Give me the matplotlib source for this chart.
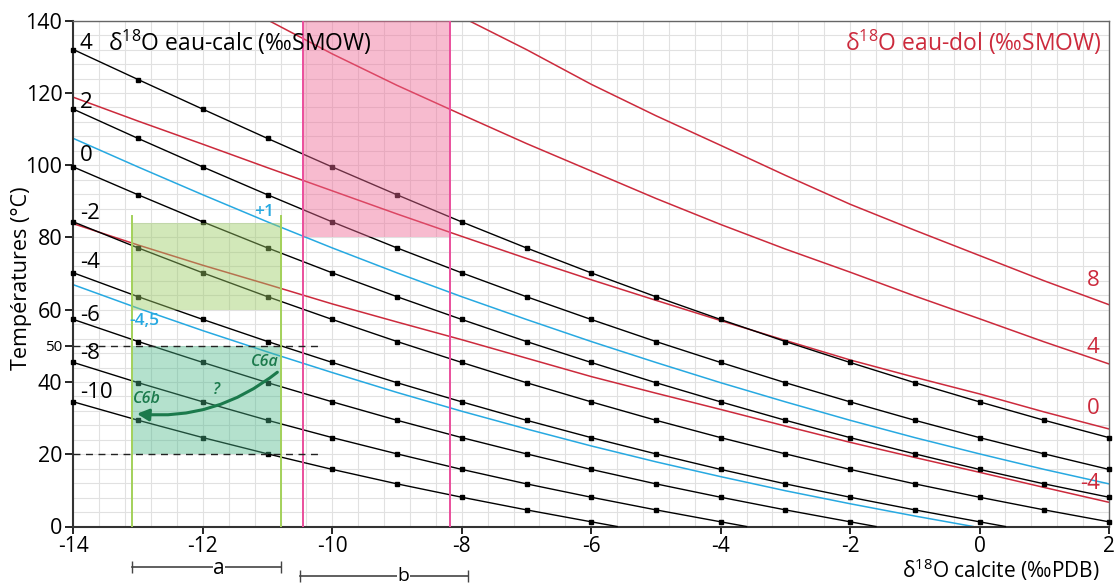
import numpy as np
import matplotlib
matplotlib.use('Agg')
import matplotlib.pyplot as plt
from matplotlib.patches import Rectangle

plt.rcParams['font.family'] = ['Open Sans', 'DejaVu Sans']
plt.rcParams['mathtext.fontset'] = 'custom'
plt.rcParams['mathtext.rm'] = 'Open Sans'
plt.rcParams['mathtext.it'] = 'Open Sans:italic'

# --- data ---
# black lines : d18O eau-calc (SMOW), markers at each integer d18O calcite (PDB)
calc_labels = ['4', '2', '0', '-2', '-4', '-6', '-8', '-10']
calc_x = [
    [-14, -13, -12, -11, -10, -9, -8, -7, -6, -5, -4, -3, -2, -1, 0, 1, 2],
    [-14, -13, -12, -11, -10, -9, -8, -7, -6, -5, -4, -3, -2, -1, 0, 1, 2],
    [-14, -13, -12, -11, -10, -9, -8, -7, -6, -5, -4, -3, -2, -1, 0, 1, 2],
    [-14, -13, -12, -11, -10, -9, -8, -7, -6, -5, -4, -3, -2, -1, 0, 1, 2],
    [-14, -13, -12, -11, -10, -9, -8, -7, -6, -5, -4, -3, -2, -1, 0, 0.4],
    [-14, -13, -12, -11, -10, -9, -8, -7, -6, -5, -4, -3, -2, -1.6],
    [-14, -13, -12, -11, -10, -9, -8, -7, -6, -5, -4, -3.6],
    [-14, -13, -12, -11, -10, -9, -8, -7, -6, -5.6],
]
calc_T = [
    [132.0, 123.7, 115.5, 107.4, 99.5, 91.8, 84.3, 77.1, 70.2, 63.6, 57.3, 51.2, 45.4, 39.8, 34.5, 29.4, 24.6],
    [115.5, 107.4, 99.5, 91.8, 84.3, 77.1, 70.2, 63.6, 57.3, 51.2, 45.4, 39.8, 34.5, 29.4, 24.6, 20.1, 15.8],
    [99.5, 91.8, 84.3, 77.1, 70.2, 63.6, 57.3, 51.2, 45.4, 39.8, 34.5, 29.4, 24.6, 20.1, 15.8, 11.8, 8.1],
    [84.3, 77.1, 70.2, 63.6, 57.3, 51.2, 45.4, 39.8, 34.5, 29.4, 24.6, 20.1, 15.8, 11.8, 8.1, 4.6, 1.3],
    [70.2, 63.6, 57.3, 51.2, 45.4, 39.8, 34.5, 29.4, 24.6, 20.1, 15.8, 11.8, 8.1, 4.6, 1.3, 0.0],
    [57.3, 51.2, 45.4, 39.8, 34.5, 29.4, 24.6, 20.1, 15.8, 11.8, 8.1, 4.6, 1.3, 0.0],
    [45.4, 39.8, 34.5, 29.4, 24.6, 20.1, 15.8, 11.8, 8.1, 4.6, 1.3, 0.0],
    [34.5, 29.4, 24.6, 20.1, 15.8, 11.8, 8.1, 4.6, 1.3, 0.0],
]
calc_label_T = [133.6, 117.4, 102.7, 86.5, 73.1, 58.4, 47.8, 37.2]

# blue lines : +1 and -4,5
blue_labels = ['+1', '-4,5']
blue_x = [
    [-14, -13, -12, -11, -10, -9, -8, -7, -6, -5, -4, -3, -2, -1, 0, 1, 2],
    [-14, -13, -12, -11, -10, -9, -8, -7, -6, -5, -4, -3, -2, -1, -0.1],
]
blue_T = [
    [107.4, 99.5, 91.8, 84.3, 77.1, 70.2, 63.6, 57.3, 51.2, 45.4, 39.8, 34.5, 29.4, 24.6, 20.1, 15.8, 11.8],
    [66.9, 60.4, 54.2, 48.3, 42.6, 37.1, 31.9, 27.0, 22.3, 17.9, 13.8, 9.9, 6.3, 2.9, 0.0],
]
blue_label_pos = [(-11.05, 87.0), (-12.9, 57.0)]

# red lines : d18O eau-dol (SMOW)
dol_labels = ['8', '4', '0', '-4']
dol_x = [
    [-8, -7, -6, -5, -4, -3, -2, -1, 0, 1, 2],
    [-11, -10, -9, -8, -7, -6, -5, -4, -3, -2, -1, 0, 1, 2],
    [-14, -13, -12, -11, -10, -9, -8, -7, -6, -5, -4, -3, -2, -1, 0, 1, 2],
    [-14, -13, -12, -11, -10, -9, -8, -7, -6, -5, -4, -3, -2, -1, 0, 1, 2],
]
dol_T = [
    [141.0, 132.0, 122.4, 113.7, 105.5, 97.2, 89.2, 82.0, 75.0, 68.0, 61.4],
    [140.2, 130.8, 122.1, 114.0, 106.0, 98.4, 90.8, 83.6, 76.8, 70.4, 63.8, 57.5, 51.1, 45.0],
    [118.8, 112.2, 105.8, 99.3, 92.9, 86.5, 80.3, 74.2, 68.3, 62.6, 57.0, 51.5, 46.1, 41.3, 36.7, 31.7, 27.0],
    [83.8, 77.9, 72.3, 67.0, 61.6, 56.6, 51.7, 46.6, 41.5, 36.9, 32.4, 27.8, 23.3, 19.1, 15.0, 10.8, 6.7],
]
dol_label_pos = [(1.75, 68.1), (1.75, 49.6), (1.75, 32.6), (1.71, 11.8)]

# shaded zones
pink_x = (-10.45, -8.18)
pink_T = (80, 140)
green_x = (-13.1, -10.8)
green_T = (60, 84)
teal_T = (20, 50)

RED = '#cc2a3c'
BLUE = '#27a9e1'
MAGENTA = '#ea4f9c'
LGREEN = '#a3d15a'
DGREEN = '#1b7a4c'

fig = plt.figure(figsize=(11.17, 5.85), dpi=100)
ax = fig.add_axes([0.0658, 0.1, 0.927, 0.8646])
ax.set_xlim(-14, 2)
ax.set_ylim(0, 140)

# grid
ax.set_xticks(np.arange(-14, 2.01, 0.4), minor=True)
ax.set_yticks(np.arange(0, 141, 4), minor=True)
ax.grid(which='both', color='#e1e1e1', lw=0.8, zorder=0)
ax.set_axisbelow(True)
ax.tick_params(which='minor', length=0)

for xs, ts in zip(calc_x, calc_T):
    n = sum(1 for v in xs if float(v).is_integer())
    ax.plot(xs, ts, color='black', lw=1.0, marker='s', markersize=3.4,
            markevery=list(range(n)), zorder=3, clip_on=False)
for lab, ty in zip(calc_labels, calc_label_T):
    ax.text(-13.9, ty, lab, fontsize=16, ha='left', va='center', color='black', zorder=6)

for xs, ts in zip(blue_x, blue_T):
    ax.plot(xs, ts, color=BLUE, lw=1.1, zorder=2)
for lab, (bx, by) in zip(blue_labels, blue_label_pos):
    ax.text(bx, by, lab, fontsize=12.5, fontweight='semibold', color=BLUE,
            ha='center', va='center', zorder=6)

for xs, ts in zip(dol_x, dol_T):
    ax.plot(xs, ts, color=RED, lw=1.1, zorder=2)
for lab, (rx, ry) in zip(dol_labels, dol_label_pos):
    ax.text(rx, ry, lab, fontsize=16, color=RED, ha='center', va='center', zorder=6)

# shaded zones (drawn over the lines)
ax.add_patch(Rectangle((pink_x[0], pink_T[0]), pink_x[1] - pink_x[0], pink_T[1] - pink_T[0],
                       facecolor='#ef6a96', alpha=0.45, lw=0, zorder=4))
ax.add_patch(Rectangle((green_x[0], green_T[0]), green_x[1] - green_x[0], green_T[1] - green_T[0],
                       facecolor='#9ccc65', alpha=0.45, lw=0, zorder=4))
ax.add_patch(Rectangle((green_x[0], teal_T[0]), green_x[1] - green_x[0], teal_T[1] - teal_T[0],
                       facecolor='#4cb88a', alpha=0.42, lw=0, zorder=4))
for xv in pink_x:
    ax.plot([xv, xv], [0, 140], color=MAGENTA, lw=1.4, zorder=5)
for xv in green_x:
    ax.plot([xv, xv], [0, 86], color=LGREEN, lw=1.4, zorder=5)
for ty in teal_T:
    ax.plot([-14, -10.2], [ty, ty], color='#222222', lw=1.0, ls=(0, (5, 4)), zorder=5)

# C6a -> C6b arrow
ax.annotate('', xy=(-13.02, 31.2), xytext=(-10.85, 42.7),
            arrowprops=dict(arrowstyle='-|>,head_length=0.7,head_width=0.35', color=DGREEN,
                            lw=2.2, connectionstyle='arc3,rad=-0.2', shrinkA=0, shrinkB=0),
            zorder=7)
ax.text(-11.04, 45.5, 'C6a', fontsize=11.5, fontstyle='italic', fontweight='semibold',
        color=DGREEN, ha='center', va='center', zorder=7)
ax.text(-12.87, 35.3, 'C6b', fontsize=11.5, fontstyle='italic', fontweight='semibold',
        color=DGREEN, ha='center', va='center', zorder=7)
ax.text(-11.8, 37.9, '?', fontsize=11.5, fontstyle='italic', fontweight='semibold',
        color=DGREEN, ha='center', va='center', zorder=7)

# headings
ax.text(-13.47, 134, r'δ$^{\mathregular{18}}$O eau-calc (‰SMOW)', fontsize=16.5,
        ha='left', va='center', color='black', zorder=6)
ax.text(1.88, 134, r'δ$^{\mathregular{18}}$O eau-dol (‰SMOW)', fontsize=16.5,
        ha='right', va='center', color=RED, zorder=6)

# brackets a and b under the axis
ax.plot([green_x[0], green_x[1]], [-11.3, -11.3], color='#444444', lw=1.2,
        marker='|', markersize=8, clip_on=False)
ax.text(-11.75, -11.6, 'a', fontsize=15, ha='center', va='center',
        bbox=dict(facecolor='white', edgecolor='none', pad=0.3), clip_on=False)
ax.plot([-10.5, -7.9], [-13.8, -13.8], color='#444444', lw=1.2,
        marker='|', markersize=8, clip_on=False)
ax.text(-8.9, -13.6, 'b', fontsize=14, ha='center', va='center',
        bbox=dict(facecolor='white', edgecolor='none', pad=0.2), clip_on=False)

# axes, ticks
ax.set_xticks([-14, -12, -10, -8, -6, -4, -2, 0, 2])
ax.set_xticklabels(['-14', '-12', '-10', '-8', '-6', '-4', '-2', '0', '2'])
ax.set_yticks([0, 20, 40, 50, 60, 80, 100, 120, 140])
ax.set_yticklabels(['0', '20', '40', '50', '60', '80', '100', '120', '140'])
ax.tick_params(axis='x', which='major', direction='out', length=5, width=1.2, pad=2, labelsize=15)
ax.tick_params(axis='y', which='major', direction='out', length=6, width=1.2, pad=2, labelsize=15.5)
ax.get_yticklabels()[3].set_fontsize(11)
for side in ['left', 'bottom']:
    ax.spines[side].set_color('#333333')
    ax.spines[side].set_linewidth(1.5)
for side in ['top', 'right']:
    ax.spines[side].set_color('#666666')
    ax.spines[side].set_linewidth(1.0)

ax.set_ylabel('Températures (°C)', fontsize=15.5)
ax.yaxis.set_label_coords(-0.040, 0.49)
fig.text(1100 / 1117, 2 / 585, r'δ$^{\mathregular{18}}$O calcite (‰PDB)', fontsize=15,
         ha='right', va='bottom')

fig.savefig('out.png', dpi=100)
